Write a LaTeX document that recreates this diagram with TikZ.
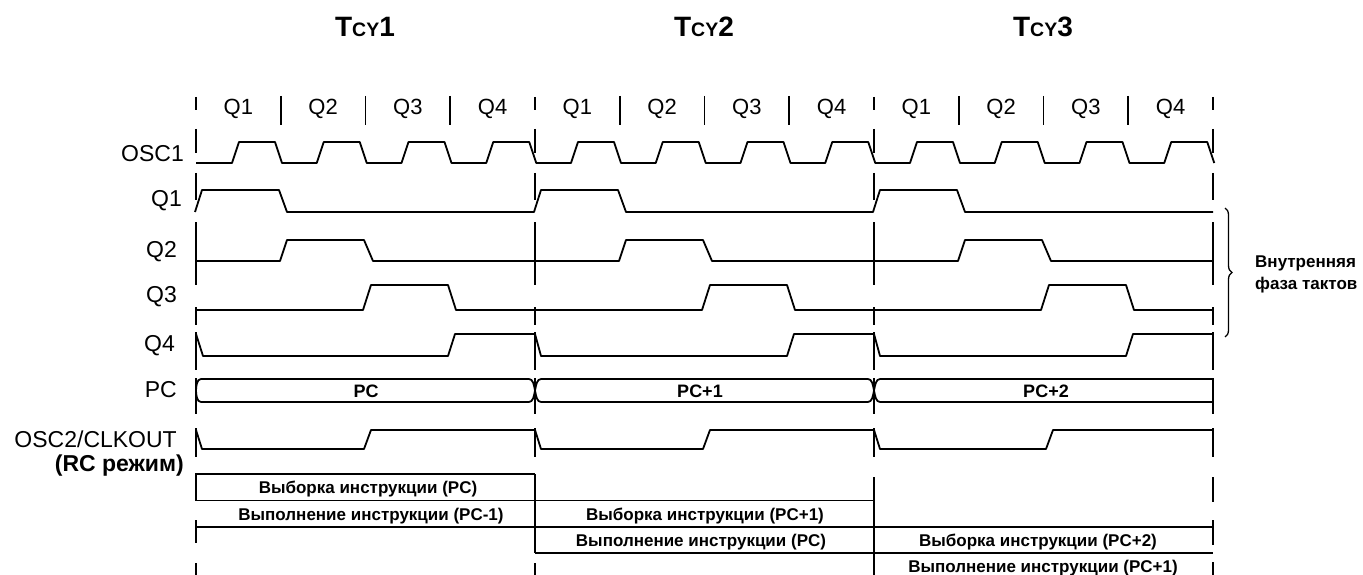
\documentclass[tikz,border=0pt]{standalone}
\usepackage{fontspec}
\setmainfont{Liberation Sans}
\usetikzlibrary{decorations.pathreplacing}
\tikzset{
  wave/.style={line width=1.8pt, line join=round},
  bnd/.style={line width=1.4pt},
  sep/.style={line width=1.9pt},
  boxline/.style={line width=1.8pt},
  lbl/.style={font=\fontsize{23}{27}\selectfont, inner sep=0pt, anchor=base east},
  qlbl/.style={font=\fontsize{22}{26}\selectfont, inner sep=0pt, anchor=base},
  head/.style={font=\fontsize{28}{32}\selectfont\bfseries, inner sep=0pt, anchor=base},
  small/.style={font=\fontsize{17}{22}\selectfont\bfseries, inner sep=0pt, anchor=base},
}
\begin{document}
\begin{tikzpicture}[x=1pt,y=-1pt]
\useasboundingbox (0,0) rectangle (1363,575);

% cycle headings
\node[head] (t1) at (365,37) {T{\fontsize{19.5}{22}\selectfont CY}1};
\node[head] (t2) at (704,37) {T{\fontsize{19.5}{22}\selectfont CY}2};
\node[head] (t3) at (1043,37) {T{\fontsize{19.5}{22}\selectfont CY}3};

% Q labels and separators
\foreach \c [count=\i] in {196,535,874}{
  \node[qlbl] (qa\i) at ({\c+42.4},115) {Q1};
  \node[qlbl] (qb\i) at ({\c+127.1},115) {Q2};
  \node[qlbl] (qc\i) at ({\c+211.9},115) {Q3};
  \node[qlbl] (qd\i) at ({\c+296.6},115) {Q4};
  \foreach \k in {1,2,3}
    \draw[sep] ({\c+84.75*\k},96) -- ({\c+84.75*\k},125);
}

% dashed cycle boundaries
\foreach \x in {196,535,874,1213}
  \foreach \a/\b in {97/110,129/153,173/200,222/285,307/325,332/370,378/414,428/457}
    \draw[bnd] (\x,\a) -- (\x,\b);
\draw[bnd] (196,520) -- (196,543);
\draw[bnd] (196,563) -- (196,575);
\draw[bnd] (535,563) -- (535,575);
\draw[bnd] (874,477) -- (874,575);
\draw[bnd] (1213,477) -- (1213,502);
\draw[bnd] (1213,520) -- (1213,545);
\draw[bnd] (1213,562) -- (1213,575);

% signal labels
\node[lbl] (lo1) at (184,161.5) {OSC1};
\node[lbl] (lq1) at (182,206) {Q1};
\node[lbl] (lq2) at (177,257) {Q2};
\node[lbl] (lq3) at (177,302) {Q3};
\node[lbl] (lq4) at (175,351) {Q4};
\node[lbl] (lpc) at (177,397) {PC};
\node[lbl] (lo2) at (177,447) {OSC2/CLKOUT};
\node[lbl, font=\fontsize{23}{27}\selectfont\bfseries] (lrc) at (184,471.5) {(RC режим)};

% OSC1
\draw[wave] (196,163) \foreach \k in {0,...,11}{
  -- ({196+84.75*\k+36},163) -- ({196+84.75*\k+43},142)
  -- ({196+84.75*\k+79},142) -- ({196+84.75*\k+86},163) };

% Q1
\draw[wave] (195,212) \foreach \c in {196,535,874}{
  -- ({\c-1},212) -- ({\c+6},190) -- ({\c+83},190) -- ({\c+91},212) } -- (1213,212);
% Q2
\draw[wave] (196,261) \foreach \c in {196,535,874}{
  -- ({\c+84},261) -- ({\c+91},240) -- ({\c+168},240) -- ({\c+177},261) } -- (1213,261);
% Q3
\draw[wave] (196,310) \foreach \c in {196,535,874}{
  -- ({\c+167},310) -- ({\c+175},285) -- ({\c+252},285) -- ({\c+260},310) } -- (1213,310);
% Q4
\draw[wave] (196,334) -- (203,356) \foreach \c in {196,535}{
  -- ({\c+252},356) -- ({\c+259},334) -- ({\c+339},334) -- ({\c+345},356) }
  -- (1126,356) -- (1133,334) -- (1213,334);

% PC bus
\draw[wave] (201,379) .. controls (197,379) and (196,386) .. (196,390.5)
  .. controls (196,395) and (197,402) .. (201,402);
\foreach \b in {535,874}{
  \draw[wave] ({\b-6},379) .. controls ({\b-2},379) and ({\b-1},385) .. (\b,390.5)
    .. controls ({\b+1},396) and ({\b+2},402) .. ({\b+6},402);
  \draw[wave] ({\b-6},402) .. controls ({\b-2},402) and ({\b-1},396) .. (\b,390.5)
    .. controls ({\b+1},385) and ({\b+2},379) .. ({\b+6},379);
}
\draw[wave] (201,379) -- (529,379) (201,402) -- (529,402);
\draw[wave] (541,379) -- (868,379) (541,402) -- (868,402);
\draw[wave] (880,379) -- (1213,379) (880,402) -- (1213,402);
\node[small, font=\fontsize{18}{22}\selectfont\bfseries] (pc0) at (366,397) {PC};
\node[small, font=\fontsize{18}{22}\selectfont\bfseries] (pc1) at (700,397) {PC+1};
\node[small, font=\fontsize{18}{22}\selectfont\bfseries] (pc2) at (1046,397) {PC+2};

% OSC2 / CLKOUT
\draw[wave] (196,430) -- (202,449) \foreach \c in {196,535}{
  -- ({\c+168},449) -- ({\c+175},430) -- ({\c+339},430) -- ({\c+345},449) }
  -- (1046,449) -- (1053,430) -- (1213,430);

% brace
\draw[line width=1.3pt, decorate, decoration={brace, amplitude=7pt}] (1225,208) -- (1225,337);
\node[font=\fontsize{17}{22}\selectfont\bfseries, align=left, anchor=west, inner sep=0pt]
  (phase) at (1255,274) {Внутренняя\\фаза тактов};

% instruction boxes
\draw[boxline] (196,500.5) -- (196,474) -- (535,474);
\draw[boxline] (196,500.5) -- (874,500.5);
\draw[boxline] (196,527) -- (1213,527);
\draw[boxline] (535,553) -- (1213,553);
\draw[boxline] (535,474) -- (535,553);

\node[small] (f0) at (368,493.5) {Выборка инструкции (PC)};
\node[small] (e0) at (371,520) {Выполнение инструкции (PC-1)};
\node[small] (f1) at (705,520) {Выборка инструкции (PC+1)};
\node[small] (e1) at (701,546) {Выполнение инструкции (PC)};
\node[small] (f2) at (1038,546) {Выборка инструкции (PC+2)};
\node[small] (e2) at (1043,572) {Выполнение инструкции (PC+1)};
\end{tikzpicture}
\end{document}
